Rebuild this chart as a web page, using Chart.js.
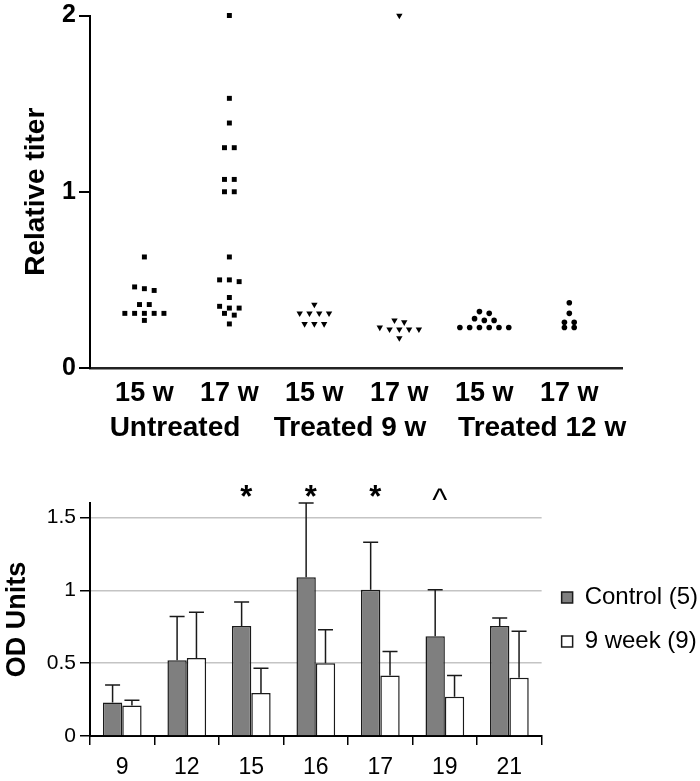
<!DOCTYPE html>
<html><head><meta charset="utf-8">
<script src="https://cdn.jsdelivr.net/npm/chart.js@4.4.0/dist/chart.umd.min.js"></script>
<style>
html,body{margin:0;padding:0;background:#fff;overflow:hidden;}
#wrapTop{position:absolute;left:0;top:0;width:700px;height:448px;}
#wrapBot{position:absolute;left:0;top:450px;width:700px;height:331px;}
</style></head><body>
<div id="wrapTop"><canvas id="topChart"></canvas></div>
<div id="wrapBot"><canvas id="botChart"></canvas></div>
<script>
const FONT = '"Liberation Sans", Arial, Helvetica, sans-serif';

// ---------- Top panel data (relative titer) ----------
const weekLabels = ['15 w', '17 w', '15 w', '17 w', '15 w', '17 w'];
const groupLabels = ['Untreated', 'Treated 9 w', 'Treated 12 w'];
const yTicksTop = [0, 1, 2];
const untreated15 = [0.63, 0.46, 0.45, 0.44, 0.36, 0.36, 0.31, 0.31, 0.31, 0.31, 0.31, 0.27];
const untreated17 = [2.0, 1.53, 1.39, 1.25, 1.25, 1.07, 1.07, 1.0, 1.0, 0.63, 0.5, 0.5, 0.49, 0.4, 0.35, 0.34, 0.34, 0.31, 0.30, 0.25];
const treated9_15 = [0.36, 0.31, 0.31, 0.31, 0.31, 0.25, 0.25, 0.25];
const treated9_17 = [2.0, 0.27, 0.26, 0.23, 0.22, 0.22, 0.22, 0.22, 0.17];
const treated12_15 = [0.32, 0.31, 0.28, 0.27, 0.27, 0.23, 0.23, 0.23, 0.23, 0.23, 0.23];
const treated12_17 = [0.37, 0.31, 0.26, 0.26, 0.23, 0.23];

// ---------- Bottom panel data (OD units) ----------
const days = ['9', '12', '15', '16', '17', '19', '21'];
const controlMean = [0.23, 0.52, 0.755, 1.09, 1.005, 0.685, 0.755];
const controlSD   = [0.12, 0.30, 0.165, 0.51, 0.325, 0.32, 0.055];
const week9Mean   = [0.21, 0.535, 0.295, 0.50, 0.415, 0.27, 0.40];
const week9SD     = [0.035, 0.315, 0.17, 0.23, 0.165, 0.145, 0.32];
const sigMarks    = ['', '', '*', '*', '*', '^', ''];
const yTicksBot   = [0, 0.5, 1, 1.5];

// layout constants (not data)
const groupTickAt = [0.36, 2.42, 4.68];

// dot-plot layout: values of near-equal size are placed side by side
function swarm(values, center) {
  const tol = 0.026, step = 0.115;
  const sorted = values.slice().sort((a, b) => b - a);
  const rows = [];
  sorted.forEach(v => {
    const r = rows[rows.length - 1];
    if (r && r[0] - v <= tol) r.push(v); else rows.push([v]);
  });
  const pts = [];
  rows.forEach(r => r.forEach((v, k) => pts.push({ x: center + (k - (r.length - 1) / 2) * step, y: v })));
  return pts;
}

Chart.defaults.font.family = FONT;
Chart.defaults.color = '#000';

new Chart(document.getElementById('topChart'), {
  type: 'scatter',
  data: {
    datasets: [
      { label: 'Untreated', data: swarm(untreated15, 0).concat(swarm(untreated17, 1)),
        pointStyle: 'rect', pointRadius: 3.5, backgroundColor: '#000', borderColor: '#000', borderWidth: 0, clip: false },
      { label: 'Treated 9 w', data: swarm(treated9_15, 2).concat(swarm(treated9_17, 3)),
        pointStyle: 'triangle', rotation: 180, pointRadius: 3.7, backgroundColor: '#000', borderColor: '#000', borderWidth: 0, clip: false },
      { label: 'Treated 12 w', data: swarm(treated12_15, 4).concat(swarm(treated12_17, 5)),
        pointStyle: 'circle', pointRadius: 2.8, backgroundColor: '#000', borderColor: '#000', borderWidth: 0, clip: false }
    ]
  },
  options: {
    responsive: true, maintainAspectRatio: false, animation: false,
    layout: { padding: { top: 13, right: 78, left: 0, bottom: 0 } },
    plugins: { legend: { display: false }, tooltip: { enabled: false } },
    scales: {
      x: {
        type: 'linear', min: -0.64, max: 5.62, position: 'bottom', weight: 0,
        afterBuildTicks: s => { s.ticks = weekLabels.map((_, i) => ({ value: i })); },
        ticks: { callback: v => weekLabels[Math.round(v)] ?? '', font: { size: 27, weight: 'bold' }, padding: 9, autoSkip: false, maxRotation: 0 },
        grid: { display: false, drawTicks: false },
        border: { display: true, color: '#222', width: 2.5 },
        afterFit: s => { s.height = 40; }
      },
      x2: {
        type: 'linear', min: -0.64, max: 5.62, position: 'bottom', weight: 1,
        afterBuildTicks: s => { s.ticks = groupTickAt.map(v => ({ value: v })); },
        ticks: { callback: (v, i) => groupLabels[i] ?? '', font: { size: 28, weight: 'bold' }, padding: 3, autoSkip: false, maxRotation: 0 },
        grid: { display: false, drawTicks: false },
        border: { display: false },
        afterFit: s => { s.height = 40; }
      },
      y: {
        min: 0, max: 2,
        afterBuildTicks: s => { s.ticks = yTicksTop.map(v => ({ value: v })); },
        ticks: { callback: v => String(v), font: { size: 25, weight: 'bold', lineHeight: 1 }, padding: 3 },
        grid: { drawOnChartArea: false, tickLength: 11, tickColor: '#000', lineWidth: 2 },
        border: { color: '#000', width: 2 },
        title: { display: true, text: 'Relative titer', font: { size: 28, weight: 'bold' }, padding: { top: 19, bottom: 0 } },
        afterFit: s => { s.width = 90; }
      }
    }
  }
});

const errorBars = {
  id: 'errorBars',
  afterDatasetsDraw(chart) {
    const ctx = chart.ctx, ys = chart.scales.y;
    chart.data.datasets.forEach((ds, di) => {
      const meta = chart.getDatasetMeta(di);
      meta.data.forEach((bar, i) => {
        const top = ys.getPixelForValue(ds.data[i] + ds.errors[i]);
        ctx.save();
        ctx.strokeStyle = '#1a1a1a'; ctx.lineWidth = 1.5;
        ctx.beginPath();
        ctx.moveTo(bar.x, bar.y); ctx.lineTo(bar.x, top);
        ctx.moveTo(bar.x - 7.5, top); ctx.lineTo(bar.x + 7.5, top);
        ctx.stroke();
        ctx.restore();
      });
    });
  }
};

const sigPlugin = {
  id: 'sigMarks',
  afterDraw(chart) {
    const ctx = chart.ctx, xs = chart.scales.x, area = chart.chartArea;
    ctx.save();
    ctx.fillStyle = '#000';
    ctx.textAlign = 'center';
    ctx.textBaseline = 'alphabetic';
    sigMarks.forEach((m, i) => {
      if (!m) return;
      ctx.font = (m === '*' ? 'bold 31px ' : '32px ') + FONT;
      ctx.fillText(m, xs.getPixelForValue(i) - 5, area.top + (m === '*' ? 4 : 7));
    });
    ctx.restore();
  }
};

new Chart(document.getElementById('botChart'), {
  type: 'bar',
  data: {
    labels: days,
    datasets: [
      { label: 'Control (5)', data: controlMean, errors: controlSD, backgroundColor: '#7f7f7f', borderColor: '#1a1a1a', borderWidth: 1.5 },
      { label: '9 week (9)', data: week9Mean, errors: week9SD, backgroundColor: '#ffffff', borderColor: '#1a1a1a', borderWidth: 1.5 }
    ]
  },
  options: {
    responsive: true, maintainAspectRatio: false, animation: false,
    categoryPercentage: 0.6, barPercentage: 1.0,
    layout: { padding: { top: 53, right: -8, left: 0, bottom: 0 } },
    plugins: {
      tooltip: { enabled: false },
      legend: {
        position: 'right', fullSize: false,
        labels: { boxWidth: 11, boxHeight: 11, padding: 20, font: { size: 24 }, color: '#000' }
      }
    },
    scales: {
      x: {
        ticks: { font: { size: 23 }, padding: 9 },
        grid: { offset: true, drawOnChartArea: false, drawTicks: true, tickLength: 9, tickColor: '#000', lineWidth: 1.5 },
        border: { color: '#000', width: 2 },
        afterFit: s => { s.height = 45; }
      },
      y: {
        min: 0, max: 1.6,
        afterBuildTicks: s => { s.ticks = yTicksBot.map(v => ({ value: v })); },
        ticks: { callback: v => String(v), font: { size: 21 }, padding: 4 },
        grid: { drawOnChartArea: true, color: c => (c.tick && c.tick.value === 0) ? 'rgba(0,0,0,0)' : '#c4c4c4', tickColor: '#000', tickLength: 10, lineWidth: 1.5 },
        border: { color: '#000', width: 2 },
        title: { display: true, text: 'OD Units', font: { size: 27, weight: 'bold' }, padding: { top: 1, bottom: 0 } },
        afterFit: s => { s.width = 90; }
      }
    }
  },
  plugins: [errorBars, sigPlugin]
});
</script>
</body></html>
